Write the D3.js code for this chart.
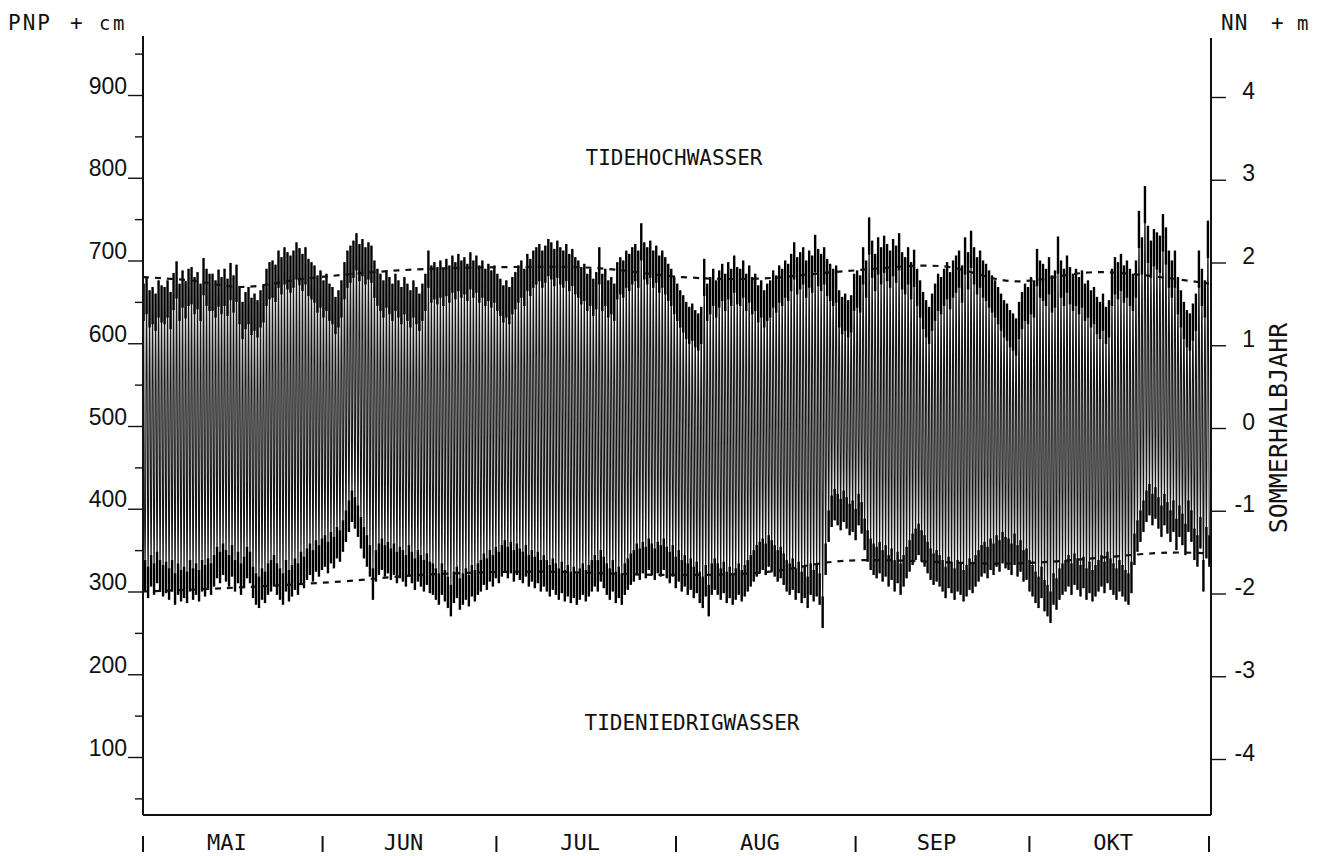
<!DOCTYPE html>
<html>
<head>
<meta charset="utf-8">
<script src="https://cdn.jsdelivr.net/npm/d3@7"></script>
<style>
  body { margin: 0; background: #fff; }
  svg { display: block; font-family: "DejaVu Sans Mono", "Liberation Mono", monospace; }
</style>
</head>
<body>
<svg id="chart" width="1331" height="856"></svg>
<script>
// months of the summer half-year and their lengths in days
const months = ['MAI', 'JUN', 'JUL', 'AUG', 'SEP', 'OKT'];
const monthDays = [31, 30, 31, 31, 30, 31];

// axis ticks: PNP in cm on the left, NN in m on the right
const leftTicks = [100, 200, 300, 400, 500, 600, 700, 800, 900];
const leftMinor = [50, 150, 250, 350, 450, 550, 650, 750, 850, 950];
const rightTicks = [4, 3, 2, 1, 0, -1, -2, -3, -4];

// tide curve: one high water and the following low water per tide (cm above PNP)
const tideStep = 12.42 / 24;   // days between high waters
const firstHW = 0.1;           // day of first high water
const hw = [
  672,680,664,668,660,676,670, 668,676,662,685,699,
  672,688,675,690,692,680,686,672,703,690,684,
  684,676,689,680,690,678,697,682,695,668,650,
  662,668,655,660,652,664,670, 690,698,700,695,712,704,716,710,
  706,712,722,715,708,716,702,698, 694,682,688,676,684,672, 668,656,664,676,
  698,712,718,724,733,720,726,716,722,718,
  700,690,684,676,688,680,672,684,676,668,680,672,664,676,668,660,
  672,684,712,694,
  698,692,700,690,702,694,706,698,708,700,704,696,710,700,706,694,700,690,696,688,694,684,
  678,670,676,668,680,686, 694,700,690,708,702,712,716,
  720,712,718,726,722,714,724,716,712,720,708,714,704,
  700,692,696,684,690,678,686,716, 684,690,676,680,672,
  698,704,700,712,708,716,720,712,745, 722,716,724,712,718,706,712,
  704,696,690,680,672,664,658,650,644, 648,640,636,644,
  702,672,680,690,676,688,696,684,698,690,706,692,
  690,700,684,694,680,684,670,676,664,672,
  676,688,682,694,690,700,696,708,
  722,704,710,716,700,712,706,731,714,708,716,702,696,
  690,694,664,656,660,652,658,
  684,688,682,
  716,700,752,724,708,728,716,730,720,712,726,718,733,710,704,716,698,713,
  690,676,662,652,644, 660,672,684,680,690,698,686,
  700,706,712,694,728,710,736,716,704,712,700,
  696,688,682,676,668,660,652,648,640,636,630,
  650,662,672,668,680,676,714,
  700,696,690,704,682,688,729,700,690,706,692,684,690,
  680,688,672,676,664,668,656,650,660,644,652,
  690,704,698,708,694,700,690,684,
  700,760,728,790,742,724,738,734,730,756,740,712,
  700,712,680,664,650,640,636, 648,660,712,690,676,748
];
const lw = [
  300,292,306,296,310,300,294,
  298,290,300,284,296,288,292,286,300,290,296,288,300,294,302,296,
  306,316,310,320,312,306,318,300,310,296,304,316,310,
  292,284,280,290,286,296,
  300,306,296,290,284,300,288,294,302,296,310,304,
  314,320,312,324,318,326,330,322,334,328,340,336,348,
  360,372,384,376,366,352,340,
  330,318,290,312,320,
  326,318,322,314,320,310,316,312,306,318,310,302,312,306,300,308,298,
  296,290,284,296,288,280,270,286,292,278,284,290,282,294,288,296,
  300,308,302,312,306,316,310,
  318,324,316,322,312,320,314,
  310,318,306,312,304,310,300,306,
  300,294,302,296,290,298,288,294,286,292,284,290,296,288,294,300,
  306,300,312,304,296,290,300,286,292,284,296,302,308,
  312,320,314,322,316,326,320,314,322,318,326,316,310,318,304,312,300,306,296,302,
  292,298,286,280,294,270,296,302,
  296,290,298,286,292,284,290,296,288,294,300,306,312,318,322,
  326,320,330,324,318,312,316,308,300,
  296,302,290,298,286,292,280,296,288,294,284,256,
  320,360,378,386,380,374,384,376,368,372,362,
  380,370,350,336,326,
  320,316,322,312,318,306,314,300,310,296,306,
  316,324,332,338,344,336,330,322,314,308,
  312,306,300,292,304,298,290,300,296,288,294,302,298,
  306,312,318,322,316,326,320,330,324,334,328,
  326,320,332,318,324,312,314,300,294,286,280,292,276,
  270,262,284,278,290,296,
  300,306,296,308,302,294,304,290,298,288,294,300,
  306,298,310,302,296,290,300,294,288,284,298,
  332,348,360,372,384,392,380,388,376,366,380,370,360,372,
  350,366,356,344,372,360,338,330,352,300,340,330
];

// mean high water / mean low water (dashed)
const mthwDay = [0, 8, 17, 28, 44, 62, 78, 93, 106, 121, 138, 150, 165, 184];
const mthw    = [680, 676, 668, 678, 688, 692, 691, 680, 678, 687, 693, 675, 686, 672];
const mtnwDay = [0, 14, 34, 48, 67, 91, 107, 121, 151, 177, 184];
const mtnw    = [300, 304, 312, 320, 324, 320, 323, 337, 334, 347, 346];

const svg = d3.select('#chart');
const L = 143, R = 1211, T = 36, B = 815;
const x = d3.scaleLinear().domain([0, d3.sum(monthDays)]).range([L, 1209]);
const y = d3.scaleLinear().domain([0, 900]).range([95 + 900 * 0.8275, 95]);
const yR = d3.scaleLinear().domain([-4, 4]).range([y(100) + 2, y(900) + 2]);

// tide curve
const pts = [];
hw.forEach((h, i) => {
  const t = firstHW + i * tideStep;
  pts.push([t, h]);
  if (lw[i] != null) pts.push([t + tideStep / 2, lw[i]]);
});
const tideLine = d3.line().x(d => x(d[0])).y(d => y(d[1])).curve(d3.curveMonotoneX);
svg.append('path').datum(pts)
  .attr('d', tideLine)
  .attr('fill', 'none').attr('stroke', '#161616').attr('stroke-width', 1.1);

// heavy pen ink at the turning points of the curve
const caps = svg.append('g').attr('stroke', '#000').attr('stroke-width', 2.4);
caps.selectAll('line.hw').data(hw).join('line').attr('class', 'hw')
  .attr('x1', (d, i) => x(firstHW + i * tideStep)).attr('x2', (d, i) => x(firstHW + i * tideStep))
  .attr('y1', d => y(d)).attr('y2', d => y(d - 45));
caps.selectAll('line.lw').data(lw).join('line').attr('class', 'lw')
  .attr('x1', (d, i) => x(firstHW + (i + 0.5) * tideStep)).attr('x2', (d, i) => x(firstHW + (i + 0.5) * tideStep))
  .attr('y1', d => y(d)).attr('y2', d => y(d + 38));

// dashed mean lines
const meanLine = d3.line().x(d => x(d[0])).y(d => y(d[1])).curve(d3.curveCatmullRom);
[[mthwDay, mthw], [mtnwDay, mtnw]].forEach(([days, vals]) => {
  svg.append('path').datum(days.map((d, i) => [d, vals[i]]))
    .attr('d', meanLine)
    .attr('fill', 'none').attr('stroke', '#111').attr('stroke-width', 2.2)
    .attr('stroke-dasharray', '6 6');
});

// left axis
const gl = svg.append('g').attr('transform', `translate(${L},0)`);
gl.call(d3.axisLeft(y).tickValues(leftTicks).tickSize(15).tickSizeOuter(0).tickPadding(1));
gl.call(g => g.append('g').call(d3.axisLeft(y).tickValues(leftMinor).tickSize(8).tickFormat('')))
  .call(g => g.selectAll('.domain').remove());
gl.selectAll('text').attr('dy', '-0.08em').attr('x', -16)
  .style('font-size', '23px').style('font-family', 'inherit').attr('fill', '#111');
gl.selectAll('line').attr('stroke', '#111').attr('stroke-width', 1.4);

// right axis
const gr = svg.append('g').attr('transform', `translate(${R},0)`);
gr.call(d3.axisRight(yR).tickValues(rightTicks).tickSize(15).tickSizeOuter(0)
  .tickFormat(d => d < 0 ? '-' + Math.abs(d) : d));
gr.select('.domain').remove();
gr.selectAll('text').attr('dy', '0.05em').attr('x', 44).attr('text-anchor', 'end')
  .style('font-size', '23px').style('font-family', 'inherit').attr('fill', '#111');
gr.selectAll('line').attr('stroke', '#111').attr('stroke-width', 1.4);

// frame lines: left, right, bottom
svg.append('line').attr('x1', L).attr('x2', L).attr('y1', T).attr('y2', B)
  .attr('stroke', '#111').attr('stroke-width', 2);
svg.append('line').attr('x1', R).attr('x2', R).attr('y1', T + 2).attr('y2', B)
  .attr('stroke', '#111').attr('stroke-width', 2);
svg.append('line').attr('x1', L).attr('x2', R).attr('y1', B).attr('y2', B)
  .attr('stroke', '#111').attr('stroke-width', 2);

// month separators and names
const starts = [0, ...d3.cumsum(monthDays)];
svg.append('g').selectAll('line').data(starts).join('line')
  .attr('x1', d => x(d)).attr('x2', d => x(d)).attr('y1', 836).attr('y2', 852)
  .attr('stroke', '#111').attr('stroke-width', 2);
svg.append('g').selectAll('text').data(months).join('text')
  .attr('x', (d, i) => x(starts[i] + monthDays[i] / 2) - 6).attr('y', 850)
  .attr('text-anchor', 'middle').attr('font-size', 22).attr('fill', '#111')
  .text(d => d);

// unit labels
const unit = (tx, px, py, size) => svg.append('text').attr('x', px).attr('y', py)
  .attr('font-size', size).attr('fill', '#111').text(tx);
unit('PNP', 8, 30, 21).attr('letter-spacing', 2);
unit('+', 70, 30, 21);
unit('c', 99, 30, 19);
unit('m', 113, 30, 19);
unit('NN', 1221, 30, 21).attr('letter-spacing', 1);
unit('+', 1271, 30, 21);
unit('m', 1297, 30, 19);

svg.append('text').attr('x', 674).attr('y', 165).attr('text-anchor', 'middle')
  .attr('font-size', 21).attr('fill', '#111').text('TIDEHOCHWASSER');
svg.append('text').attr('x', 692).attr('y', 730).attr('text-anchor', 'middle')
  .attr('font-size', 21).attr('fill', '#111').text('TIDENIEDRIGWASSER');
svg.append('text').attr('transform', 'translate(1287,428) rotate(-90)')
  .attr('text-anchor', 'middle').attr('font-size', 25).attr('fill', '#111')
  .text('SOMMERHALBJAHR');
</script>
</body>
</html>
